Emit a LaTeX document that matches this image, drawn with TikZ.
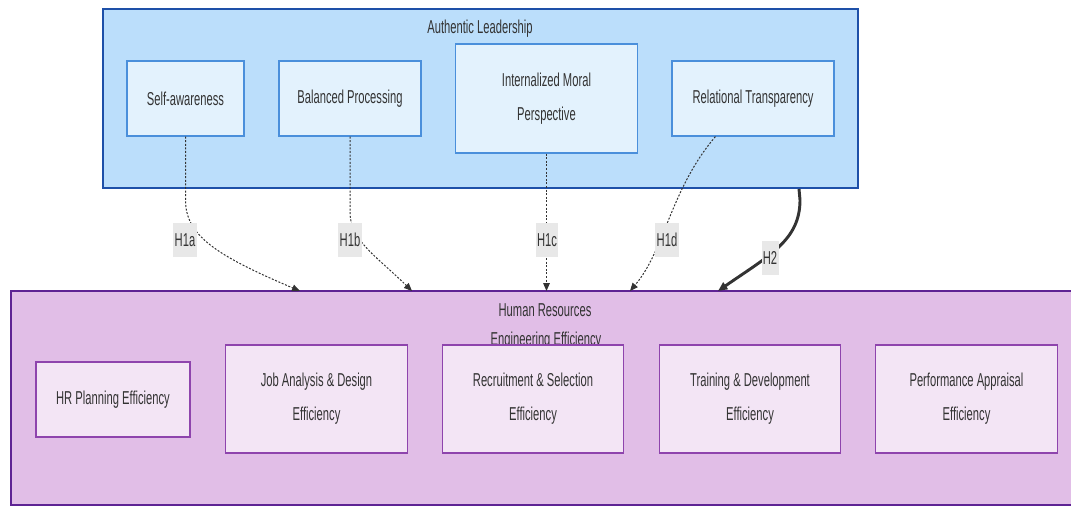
\documentclass[tikz,border=0pt]{standalone}
\usepackage{fontspec}
\setmainfont{Liberation Sans}[FakeStretch=0.6]
\usetikzlibrary{arrows.meta,positioning,calc,fit}
\definecolor{alfill}{HTML}{BBDEFB}
\definecolor{alline}{HTML}{1E50A8}
\definecolor{leafblue}{HTML}{E3F2FD}
\definecolor{leafblueline}{HTML}{4A8FDB}
\definecolor{hrfill}{HTML}{E1BEE7}
\definecolor{hrline}{HTML}{5E2394}
\definecolor{leafpurple}{HTML}{F3E5F5}
\definecolor{leafpurpleline}{HTML}{8E44AD}
\definecolor{darktext}{HTML}{333333}
\definecolor{labelgray}{HTML}{E8E8E8}

\tikzset{
  cluster/.style={line width=1.5pt, inner sep=0pt},
  title/.style={text=darktext, font=\fontsize{14}{16}\selectfont, inner sep=0pt},
  leaf/.style={line width=0.9pt, inner sep=0pt, align=center, text=darktext,
    font=\fontsize{14}{25.5}\selectfont},
  leafA/.style={leaf, fill=leafblue, draw=leafblueline},
  leafB/.style={leaf, fill=leafpurple, draw=leafpurpleline},
  short/.style={minimum height=56.25pt},
  tall/.style={minimum height=81pt, minimum width=136pt},
  hyp/.style={draw=darktext, line width=0.75pt, dash pattern=on 1.5pt off 1.2pt,
    -{Triangle[length=6pt,width=5pt]}},
  hypmain/.style={draw=darktext, line width=2.2pt, -{Triangle[length=7pt,width=6pt]}},
  hlabel/.style={fill=labelgray, inner xsep=1pt, inner ysep=0pt, minimum height=25.5pt,
    text=darktext, font=\fontsize{14}{16}\selectfont}
}

\begin{document}
\begin{tikzpicture}[x=0.75pt,y=-0.75pt]
\useasboundingbox (0,0) rectangle (1071,506);

% Authentic Leadership
\node[cluster, fill=alfill, draw=alline, fit={(103,9) (858,188)}] (al) {};
\node[title] (al-title) at (480,28.5) {Authentic Leadership};
\node[leafA, short, minimum width=87.75pt] (sa) at (185.5,98.5) {Self-awareness};
\node[leafA, short, minimum width=106.5pt] (bp) at (350,98.5) {Balanced Processing};
\node[leafA, tall, minimum height=81.75pt] (imp) at (546.5,98.5) {Internalized Moral\\Perspective};
\node[leafA, short, minimum width=121.5pt] (rt) at (753,98.5) {Relational Transparency};

% Human Resources
\node[cluster, fill=hrfill, draw=hrline, fit={(11,291) (1085,505)}] (hr) {};
\node[title] (hr-title) at (545,310) {Human Resources};
\node[title] (hr-sub) at (546,341) {Engineering Efficiency};
\node[leafB, short, minimum width=115.5pt] (hrp) at (113,399.5) {HR Planning Efficiency};
\node[leafB, tall] (jad) at (316.5,399) {Job Analysis \& Design\\Efficiency};
\node[leafB, tall] (rs) at (533,399) {Recruitment \& Selection\\Efficiency};
\node[leafB, tall] (td) at (750,399) {Training \& Development\\Efficiency};
\node[leafB, tall] (pa) at (966.5,399) {Performance Appraisal\\Efficiency};

% arrow ends on the HR cluster
\coordinate (e1a) at (300,291);
\coordinate (e1b) at (412,291);
\coordinate (e1c) at (546.5,291);
\coordinate (e1d) at (630,291);
\coordinate (e2) at (718,291);
\coordinate (s1d) at ($(rt.south west)+(44,0)$);
\coordinate (s2) at ($(al.south west)+(697,0)$);

% hypotheses
\draw[hyp] (sa.south) -- (185.5,200) .. controls (185.5,235) and (215,255) .. (e1a);
\draw[hyp] (bp.south) -- (350,212) .. controls (350,240) and (375,255) .. (e1b);
\draw[hyp] (imp.south) -- (e1c);
\draw[hyp] (s1d) .. controls (670,190) and (665,250) .. (e1d);
\draw[hypmain] (s2) -- (800,200) .. controls (800,240) and (770,255) .. (e2);

\node[hlabel] (l1a) at (185,240) {H1a};
\node[hlabel] (l1b) at (350,240) {H1b};
\node[hlabel] (l1c) at (547,240) {H1c};
\node[hlabel] (l1d) at (667,240) {H1d};
\node[hlabel] (l2) at (770,258) {H2};
\end{tikzpicture}
\end{document}
